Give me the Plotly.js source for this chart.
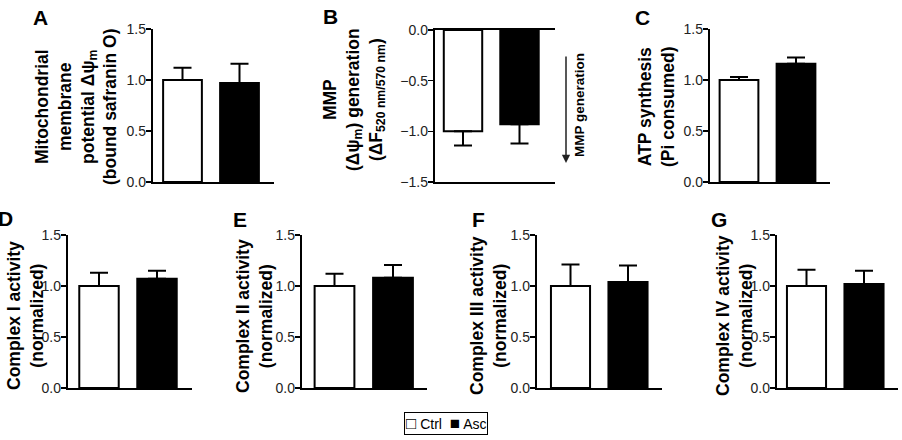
<!DOCTYPE html>
<html>
<head>
<meta charset="utf-8">
<script src="https://cdn.plot.ly/plotly-3.0.1.min.js"></script>
<style>html,body{margin:0;padding:0;background:#fff;}#chart{width:902px;height:440px;}</style>
</head>
<body>
<div id="chart"></div>
<script>
// ---- data ----
const groups = ['Ctrl', 'Asc'];
const groupColors = ['#ffffff', '#000000'];
const mmpValues = [1.00, 0.97];
const mmpErrors = [0.12, 0.19];
const mmpGenValues = [-1.00, -0.93];
const mmpGenErrors = [0.14, 0.19];
const atpValues = [1.00, 1.16];
const atpErrors = [0.03, 0.06];
const complexIValues = [1.00, 1.07];
const complexIErrors = [0.13, 0.08];
const complexIIValues = [1.00, 1.08];
const complexIIErrors = [0.12, 0.125];
const complexIIIValues = [1.00, 1.04];
const complexIIIErrors = [0.21, 0.16];
const complexIVValues = [1.00, 1.02];
const complexIVErrors = [0.16, 0.13];
const yTicksPos = [0, 0.5, 1.0, 1.5];
const yTicksNeg = [0, -0.5, -1.0, -1.5];

const W = 902, H = 440;
const FONT = 'Liberation Sans, Arial, Helvetica, sans-serif';

// panel geometry (pixels): x axis extent, ctrl center, spacing, y top/bottom
const panels = [
  {vals: mmpValues, errs: mmpErrors, neg: false, ax: [153, 274], c0: 182.5, s: 57, yt: 29, yb: 182},
  {vals: mmpGenValues, errs: mmpGenErrors, neg: true, ax: [435, 555], c0: 463, s: 56.5, yt: 30, yb: 182},
  {vals: atpValues, errs: atpErrors, neg: false, ax: [710, 830], c0: 739, s: 57, yt: 29, yb: 182},
  {vals: complexIValues, errs: complexIErrors, neg: false, ax: [68, 192], c0: 99, s: 58, yt: 235, yb: 388},
  {vals: complexIIValues, errs: complexIIErrors, neg: false, ax: [302, 427], c0: 334.5, s: 58.5, yt: 235, yb: 388},
  {vals: complexIIIValues, errs: complexIIIErrors, neg: false, ax: [537, 662], c0: 570.5, s: 57.5, yt: 235, yb: 388},
  {vals: complexIVValues, errs: complexIVErrors, neg: false, ax: [777, 898], c0: 806.5, s: 57.5, yt: 235, yb: 388}
];

const traces = [];
const layout = {
  width: W, height: H,
  margin: {l: 0, r: 0, t: 0, b: 0},
  paper_bgcolor: '#fff', plot_bgcolor: 'rgba(0,0,0,0)',
  showlegend: false,
  font: {family: FONT, color: '#000'},
  bargap: 0,
  annotations: [],
  shapes: []
};

panels.forEach((p, i) => {
  const n = i === 0 ? '' : String(i + 1);
  const m = String(i + 8);
  traces.push({
    type: 'bar',
    x: groups.map((g, k) => k),
    y: p.vals,
    width: groups.map(() => 0.68),
    text: groups,
    hoverinfo: 'text+y',
    textposition: 'none',
    marker: {color: groupColors, line: {color: '#000', width: 2}},
    error_y: p.neg
      ? {type: 'data', symmetric: false, array: p.errs.map(() => 0), arrayminus: p.errs, color: '#000', thickness: 2, width: 9}
      : {type: 'data', symmetric: false, array: p.errs, arrayminus: p.errs.map(() => 0), color: '#000', thickness: 2, width: 9},
    xaxis: 'x' + n, yaxis: 'y' + n,
    cliponaxis: false
  });
  // empty helper trace so the tick-label axis gets drawn
  traces.push({type: 'scatter', mode: 'markers', x: [], y: [], hoverinfo: 'skip', xaxis: 'x' + n, yaxis: 'y' + m});
  const yr = p.neg ? [-1.5, 0] : [0, 1.5];
  const tv = p.neg ? yTicksNeg : yTicksPos;
  layout['xaxis' + n] = {
    domain: [p.ax[0] / W, p.ax[1] / W],
    range: [(p.ax[0] - p.c0) / p.s, (p.ax[1] - p.c0) / p.s],
    anchor: 'y' + n,
    showline: true, linecolor: '#000', linewidth: 2,
    mirror: p.neg ? true : false,
    showticklabels: false, ticks: '', showgrid: false, zeroline: false, fixedrange: true
  };
  // axis line + tick marks
  layout['yaxis' + n] = {
    domain: [1 - p.yb / H, 1 - p.yt / H],
    range: yr,
    anchor: 'x' + n,
    tickvals: tv,
    showticklabels: false,
    showline: true, linecolor: '#000', linewidth: 2,
    ticks: 'outside', ticklen: 5, tickwidth: 1.5, tickcolor: '#000',
    showgrid: false, zeroline: false, fixedrange: true
  };
  // tick labels, sitting close to the tick marks
  layout['yaxis' + m] = {
    overlaying: 'y' + n,
    anchor: 'free',
    position: (p.ax[0] - 7) / W,
    side: 'left',
    range: yr,
    tickvals: tv,
    tickformat: '.1f',
    showline: false, ticks: '',
    tickfont: {family: FONT, size: 14, color: '#222'},
    showgrid: false, zeroline: false, fixedrange: true
  };
});

function ann(text, px, py, opts) {
  layout.annotations.push(Object.assign({
    text: text, xref: 'paper', yref: 'paper', x: px / W, y: 1 - py / H,
    xanchor: 'center', yanchor: 'middle', showarrow: false,
    font: {family: FONT, size: 18, color: '#000'}
  }, opts || {}));
}

// panel letters
const letterFont = {family: FONT, size: 21, color: '#000'};
[['A', 40, 18], ['B', 330, 17], ['C', 642, 18], ['D', 5, 218], ['E', 240, 219], ['F', 478, 219], ['G', 719, 219]]
  .forEach(l => ann('<b>' + l[0] + '</b>', l[1], l[2], {font: letterFont}));

// y-axis titles
const tf = {family: FONT, size: 17.5, color: '#000'};
ann('<b>Mitochondrial<br>membrane<br>potential Δψ<sub>m</sub><br>(bound safranin O)</b>', 76, 107, {textangle: -90, font: tf});
ann('<b>MMP<br>(Δψ<sub>m</sub>) generation<br>(ΔF<sub>520 nm/570 nm</sub>)</b>', 354, 100, {textangle: -90, font: tf});
ann('<b>ATP synthesis<br>(Pi consumed)</b>', 656, 107, {textangle: -90, font: tf});
ann('<b>Complex I activity<br>(normalized)</b>', 25, 316, {textangle: -90, font: tf});
ann('<b>Complex II activity<br>(normalized)</b>', 254, 316, {textangle: -90, font: tf});
ann('<b>Complex III activity<br>(normalized)</b>', 488, 316, {textangle: -90, font: tf});
ann('<b>Complex IV activity<br>(normalized)</b>', 734, 316, {textangle: -90, font: tf});

// MMP generation arrow
layout.annotations.push({
  xref: 'paper', yref: 'paper', x: 566 / W, y: 1 - 163 / H,
  ax: 0, ay: -108, axref: 'pixel', ayref: 'pixel',
  text: '', showarrow: true, arrowhead: 2, arrowsize: 1.1, arrowwidth: 1.5, arrowcolor: '#222'
});
ann('<b>MMP generation</b>', 579, 105, {textangle: -90, font: {family: FONT, size: 13.5, color: '#000'}});

// legend box
ann('<span style="font-size:17px">□</span> Ctrl  <span style="font-size:17px">■</span> Asc', 446, 423.5,
  {font: {family: FONT, size: 14, color: '#000'}, bordercolor: '#000', borderwidth: 1, borderpad: 1, bgcolor: '#fff'});

Plotly.newPlot('chart', traces, layout, {staticPlot: true, displayModeBar: false});
</script>
</body>
</html>
